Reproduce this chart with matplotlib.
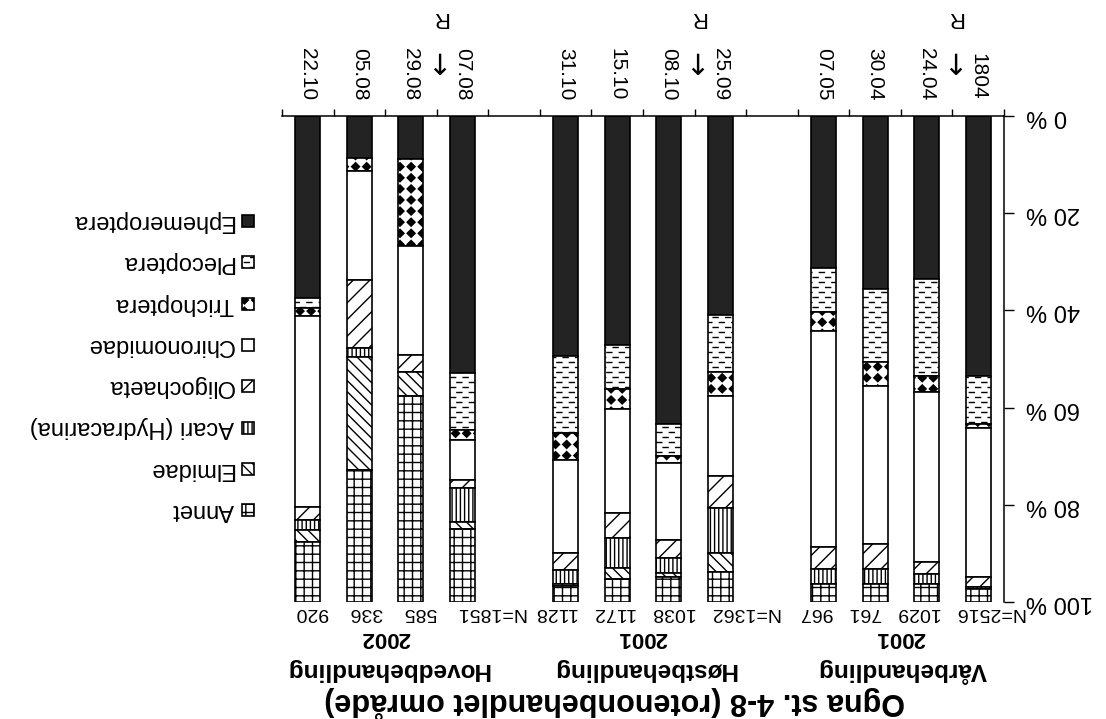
import warnings
import numpy as np
import matplotlib
matplotlib.use('Agg')
import matplotlib.pyplot as plt
import matplotlib.hatch as mhatch
from matplotlib.path import Path
from matplotlib.patches import Rectangle

warnings.filterwarnings('ignore', message='hatch must consist')
plt.rcParams['font.family'] = ['Liberation Sans', 'DejaVu Sans']
plt.rcParams['hatch.linewidth'] = 1.0

# treatment groups and sampling dates
groups = ['Vårbehandling', 'Høstbehandling', 'Hovedbehandling']
years = ['2001', '2001', '2002']
dates = [['1804', '24.04', '30.04', '07.05'],
         ['25.09', '08.10', '15.10', '31.10'],
         ['07.08', '29.08', '05.08', '22.10']]
n_ind = [[2516, 1029, 761, 967],
         [1362, 1038, 1172, 1128],
         [1851, 585, 336, 920]]
treated = ['24.04', '08.10', '29.08']  # first sample after rotenone

taxa = ['Ephemeroptera', 'Plecoptera', 'Trichoptera', 'Chironomidae',
        'Oligochaeta', 'Acari (Hydracarina)', 'Elmidae', 'Annet']

# % of each sample, same date order as above
ephemeroptera = [53.4, 33.6, 35.6, 31.2, 41.0, 63.4, 47.2, 49.3, 52.9, 8.9, 8.6, 37.5]
plecoptera    = [10.0, 19.8, 15.1, 9.2, 11.7, 6.6, 9.0, 15.9, 11.7, 0.0, 0.0, 2.0]
trichoptera   = [0.8, 3.4, 4.8, 3.8, 4.9, 1.4, 4.1, 5.5, 2.1, 17.9, 2.7, 1.7]
chironomidae  = [30.7, 35.0, 32.5, 44.5, 16.5, 15.8, 21.4, 19.3, 8.2, 22.3, 22.4, 39.2]
oligochaeta   = [2.0, 2.4, 5.2, 4.5, 6.6, 3.8, 5.2, 3.4, 1.7, 3.5, 14.1, 2.8]
acari         = [0.5, 2.0, 3.0, 3.0, 9.3, 3.1, 6.2, 2.8, 6.9, 0.0, 1.7, 2.0]
elmidae       = [0.0, 0.0, 0.0, 0.0, 3.8, 0.7, 2.1, 0.5, 1.4, 5.1, 23.4, 2.4]
annet         = [2.6, 3.8, 3.8, 3.8, 6.2, 5.2, 4.8, 3.3, 15.1, 42.3, 27.1, 12.4]
values = [ephemeroptera, plecoptera, trichoptera, chironomidae,
          oligochaeta, acari, elmidae, annet]

faces = ['#232323', 'white', 'white', 'white', 'white', 'white', 'white', 'white']
hatches = [None, '__', 'd', None, '//', '||||', '\\\\\\', '++']


# two extra fill patterns: staggered short dashes and a grid of diamonds
class DashHatch(mhatch.HatchPatternBase):
    def __init__(self, hatch, density):
        n = hatch.count('_')
        self.rows = 10 * n
        self.cols = 4 * n
        self.num_vertices = 2 * self.rows * self.cols

    def set_vertices_and_codes(self, vertices, codes):
        k = 0
        for i in range(self.rows):
            y = (i + 0.5) / self.rows
            shift = 0.5 * (i % 2)
            for j in range(self.cols):
                x0 = (j + shift + 0.05) / self.cols
                vertices[k] = (x0, y)
                vertices[k + 1] = (x0 + 0.4 / self.cols, y)
                codes[k] = Path.MOVETO
                codes[k + 1] = Path.LINETO
                k += 2


class DiamondHatch(mhatch.HatchPatternBase):
    def __init__(self, hatch, density):
        n = 9 * hatch.count('d')
        self.n = n
        self.centres = [(i / n, j / n) for i in range(n + 1) for j in range(n + 1)] if n else []
        self.num_vertices = 5 * len(self.centres)

    def set_vertices_and_codes(self, vertices, codes):
        h = 0.5 / self.n * 0.72
        shape = np.array([[0, -h], [h, 0], [0, h], [-h, 0], [0, -h]])
        for k, (cx, cy) in enumerate(self.centres):
            vertices[5 * k:5 * k + 5] = shape + [cx, cy]
            codes[5 * k:5 * k + 5] = [Path.MOVETO, Path.LINETO, Path.LINETO,
                                      Path.LINETO, Path.CLOSEPOLY]


mhatch._hatch_types.extend([DashHatch, DiamondHatch])

# one empty slot between the groups
slots = np.array([g * 5 + j for g in range(len(dates)) for j in range(len(dates[g]))])
width = 0.485

fig = plt.figure(figsize=(11.06, 7.19), dpi=100)
W, H = 1106, 719
ax = fig.add_axes([282 / W, 1 - 602 / H, (1004 - 282) / W, (602 - 116) / H])

bottom = np.zeros(len(slots))
for vals, fc, ht in zip(values, faces, hatches):
    vals = np.array(vals)
    ax.bar(slots, vals, width, bottom=bottom, color=fc, hatch=ht,
           edgecolor='black', linewidth=1.2, zorder=2)
    bottom += vals

# page is printed upside down
ax.set_xlim(13.5, -0.5)
ax.set_ylim(100, 0)
for side in ['bottom', 'left']:
    ax.spines[side].set_visible(False)
for side in ['top', 'right']:
    ax.spines[side].set_linewidth(1.1)

ax.xaxis.tick_top()
ax.set_xticks(np.arange(-0.5, 14, 1.0))
ax.tick_params(axis='x', direction='out', length=5, width=1, labeltop=False, labelbottom=False)
ax.yaxis.tick_right()
ax.set_yticks(range(0, 101, 20))
ax.set_yticklabels(['%d %%' % v for v in range(0, 101, 20)], rotation=180, va='center')
ax.tick_params(axis='y', direction='out', length=7, width=1, pad=9, labelsize=17)

# sideways shift of each N line (spaces typed to sit under the bars)
n_gap = [3, 3, 4]
n_dx = [13, 17, 27]

for g in range(len(dates)):
    for j, d in enumerate(dates[g]):
        s = g * 5 + j
        ax.annotate(d, xy=(s, 1), xycoords=('data', 'axes fraction'),
                    xytext=(0, 16), textcoords='offset pixels',
                    rotation=-90, ha='center', va='bottom', fontsize=15)
        if d in treated:
            # rotenone applied between this and the previous sample
            ax.annotate('→', xy=(s - 0.5, 1), xycoords=('data', 'axes fraction'),
                        xytext=(0, 52), textcoords='offset pixels', family='DejaVu Sans',
                        rotation=-90, ha='center', va='center', fontsize=21)
            ax.annotate('R', xy=(s - 0.5, 1), xycoords=('data', 'axes fraction'),
                        xytext=(3, 98), textcoords='offset pixels',
                        rotation=180, ha='center', va='center', fontsize=16)

    centre = g * 5 + 1.5
    n_text = 'N=' + (' ' * n_gap[g]).join(str(n) for n in n_ind[g])
    ax.annotate(n_text, xy=(centre, 0), xycoords=('data', 'axes fraction'),
                xytext=(n_dx[g], -10), textcoords='offset pixels',
                rotation=180, ha='center', va='center', fontsize=14)
    ax.annotate(years[g], xy=(centre, 0), xycoords=('data', 'axes fraction'),
                xytext=(0, -36), textcoords='offset pixels',
                rotation=180, ha='center', va='center', fontsize=16, fontweight='bold')
    ax.annotate(groups[g], xy=(centre, 0), xycoords=('data', 'axes fraction'),
                xytext=(2, -68), textcoords='offset pixels',
                rotation=180, ha='center', va='center', fontsize=17.5, fontweight='bold')

fig.text(615 / W, 1 - 703 / H, 'Ogna st. 4-8 (rotenonbehandlet område)',
         rotation=180, ha='center', va='center', fontsize=22, fontweight='bold')

# legend drawn by hand in pixel coordinates
lax = fig.add_axes([0, 0, 1, 1])
lax.set_xlim(0, W)
lax.set_ylim(H, 0)
lax.axis('off')
for i, (name, fc, ht) in enumerate(zip(taxa, faces, hatches)):
    y = 221 + 41.3 * i
    lax.add_patch(Rectangle((242, y - 6), 12, 12, facecolor=fc, hatch=ht,
                            edgecolor='black', linewidth=1.2))
    lax.text(234, y, name, rotation=180, ha='right', va='center', fontsize=17)

fig.savefig('out.png', dpi=100)
